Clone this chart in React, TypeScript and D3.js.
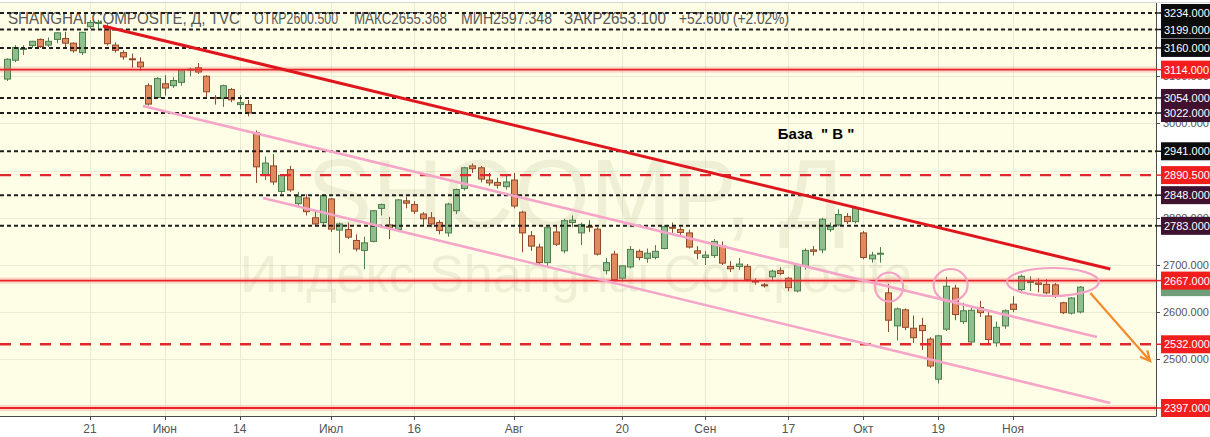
import React from 'react';
import * as d3 from 'd3';

// ---------- data ----------
const opens = [
  3094, 3134, 3158, 3165, 3178, 3166, 3178, 3180, 3170, 3150,
  3205, 3212, 3205, 3166, 3150, 3137, 3130, 3080, 3055, 3084,
  3080, 3087, 3113, 3118, 3100, 3055, 3053, 3072, 3040, 3040,
  2980, 2890, 2910, 2856, 2902, 2830, 2842, 2800, 2790, 2840,
  2774, 2775, 2752, 2731, 2750, 2820, 2785, 2775, 2836, 2828,
  2808, 2800, 2790, 2768, 2815, 2862, 2910, 2906, 2880, 2875,
  2866, 2880, 2812, 2762, 2738, 2705, 2770, 2730, 2790, 2768,
  2782, 2776, 2688, 2723, 2672, 2696, 2729, 2714, 2716, 2735,
  2780, 2775, 2768, 2730, 2716, 2720, 2740, 2697, 2697, 2697,
  2666, 2658, 2675, 2688, 2672, 2645, 2697, 2732, 2732, 2775,
  2785, 2803, 2792, 2768, 2713, 2723, 2641, 2571, 2605, 2566,
  2572, 2543, 2458, 2564, 2651, 2580, 2537, 2610, 2592, 2535,
  2571, 2617, 2648, 2665, 2662, 2659, 2658, 2620, 2598, 2600.5,
];
const highs = [
  3138, 3166, 3166, 3175, 3180, 3182, 3193, 3194, 3172, 3194,
  3219, 3220, 3210, 3172, 3155, 3148, 3140, 3085, 3098, 3102,
  3098, 3115, 3118, 3128, 3102, 3060, 3082, 3075, 3060, 3050,
  2985, 2930, 2935, 2892, 2910, 2855, 2850, 2815, 2850, 2842,
  2790, 2790, 2765, 2760, 2816, 2830, 2802, 2840, 2845, 2835,
  2812, 2812, 2795, 2832, 2862, 2908, 2915, 2910, 2895, 2885,
  2890, 2895, 2815, 2772, 2745, 2780, 2785, 2798, 2805, 2790,
  2795, 2780, 2715, 2730, 2700, 2740, 2733, 2735, 2742, 2785,
  2790, 2780, 2775, 2740, 2730, 2755, 2750, 2708, 2715, 2702,
  2672, 2662, 2690, 2695, 2675, 2702, 2735, 2740, 2800, 2790,
  2818, 2810, 2825, 2772, 2728, 2738, 2660, 2610, 2608, 2593,
  2588, 2547, 2552, 2675, 2658, 2620, 2610, 2624, 2600, 2580,
  2606, 2634, 2680, 2676, 2672, 2670, 2662, 2622, 2632, 2655.368,
];
const lows = [
  3090, 3130, 3145, 3160, 3160, 3162, 3170, 3160, 3150, 3145,
  3200, 3200, 3165, 3150, 3135, 3118, 3112, 3038, 3052, 3059,
  3075, 3080, 3100, 3105, 3055, 3040, 3035, 3045, 3030, 3015,
  2874, 2880, 2870, 2850, 2855, 2825, 2805, 2782, 2785, 2770,
  2725, 2755, 2729, 2691, 2748, 2805, 2755, 2770, 2820, 2808,
  2785, 2780, 2765, 2760, 2808, 2858, 2895, 2875, 2868, 2862,
  2860, 2820, 2727, 2730, 2700, 2695, 2740, 2725, 2780, 2742,
  2770, 2720, 2680, 2666, 2665, 2693, 2710, 2705, 2712, 2733,
  2768, 2760, 2735, 2712, 2700, 2715, 2700, 2685, 2690, 2665,
  2658, 2652, 2665, 2678, 2645, 2642, 2690, 2720, 2725, 2770,
  2782, 2787, 2788, 2712, 2705, 2705, 2558, 2540, 2562, 2535,
  2520, 2482, 2449, 2560, 2583, 2575, 2530, 2590, 2534, 2527,
  2565, 2600, 2640, 2645, 2642, 2638, 2630, 2596, 2595, 2597.348,
];
const closes = [
  3136, 3161, 3159, 3174, 3163, 3174, 3192, 3170, 3154, 3193,
  3214, 3214, 3169, 3155, 3141, 3135, 3120, 3041, 3095, 3075,
  3091, 3114, 3115, 3109, 3067, 3053, 3080, 3050, 3044, 3022,
  2908, 2916, 2876, 2890, 2859, 2845, 2813, 2787, 2847, 2776,
  2787, 2759, 2734, 2747, 2815, 2828, 2778, 2838, 2831, 2814,
  2798, 2787, 2773, 2829, 2860, 2906, 2904, 2882, 2874, 2869,
  2876, 2825, 2768, 2740, 2705, 2779, 2744, 2794, 2795, 2786,
  2781, 2723, 2705, 2669, 2698, 2733, 2716, 2725, 2729, 2781,
  2778, 2769, 2738, 2725, 2721, 2750, 2704, 2692, 2702, 2669,
  2665, 2656, 2687, 2682, 2652, 2700, 2731, 2729, 2797, 2781,
  2807, 2792, 2821, 2716, 2721, 2725, 2583, 2607, 2568, 2546,
  2561, 2486, 2550, 2655, 2595, 2603, 2604, 2599, 2542, 2568,
  2603, 2606, 2676, 2665, 2659, 2641, 2635, 2599, 2630, 2653.1,
];

const tickIdx = [10, 19, 28, 39, 49, 61, 74, 84, 94, 103, 112, 121];
const tickLabels = ['21', 'Июн', '14', 'Июл', '16', 'Авг', '20', 'Сен', '17', 'Окт', '19', 'Ноя'];

const gridValues = [2500, 2600, 2700, 2800, 2900, 3000, 3100, 3200];
const axisLabelValues = [2500, 2600, 2700, 2800, 3000, 3100];

const levelValues = [3234, 3199, 3160, 3114, 3054, 3022, 2941, 2890.5, 2848, 2783, 2667, 2532, 2397];
const levelKinds = ['dot', 'dot', 'dot', 'solid', 'dot', 'dot', 'dot', 'dash', 'dot', 'dot', 'solid', 'dash', 'solid'];
const levelTones = ['black', 'black', 'black', 'red', 'maroon', 'maroon', 'black', 'red', 'maroon', 'maroon', 'red', 'red', 'red'];

const lastClose = 2653.1;

const redTrendIdx = [11.56, 132.7];
const redTrendVal = [3206.5, 2691.5];
const pinkUpperIdx = [16.37, 131.1];
const pinkUpperVal = [3036.9, 2547.4];
const pinkLowerIdx = [30.8, 132.7];
const pinkLowerVal = [2842, 2407.6];
const arrowIdx = [130.3, 137.5];
const arrowVal = [2640.7, 2496.6];
const ellipseIdx = [106.1, 113.5, 125.8];
const ellipseVal = [2653.4, 2657.6, 2664];

const headerParts = ['SHANGHAI COMPOSITE, Д, TVC', 'ОТКР2600.500', 'МАКС2655.368', 'МИН2597.348', 'ЗАКР2653.100', '+52.600 (+2.02%)'];
const noteText = 'База  " В "';

// ---------- layout ----------
const W = 1210;
const H = 437;
const PR = 1156;
const PT = 3;
const PB = 416;

export default function App() {
  const x = d3.scaleLinear().domain([0, 129]).range([6.85, 1079.5]);
  const y = d3.scaleLinear().domain([2397, 3234]).range([408, 13]);

  const GF = '#8fbf8c';
  const GS = '#4d7f4c';
  const RF = '#e08a5e';
  const RS = '#8e4a2a';

  const toneFill: Record<string, string> = { black: '#0c0c0c', maroon: '#3f1230', red: '#f21d1d' };
  const line = d3.line<[number, number]>().x((d) => x(d[0])).y((d) => y(d[1]));

  const headerX = [8, 254, 354, 461, 564, 679];
  const headerW = [232, 84, 93, 91, 102, 110];
  const ellR = [[14, 14.5], [17, 16], [46, 14]];

  const ax0 = x(arrowIdx[0]), ay0 = y(arrowVal[0]), ax1 = x(arrowIdx[1]), ay1 = y(arrowVal[1]);
  const ang = Math.atan2(ay1 - ay0, ax1 - ax0);
  const hl = 11;
  const h1 = [ax1 - hl * Math.cos(ang - 0.45), ay1 - hl * Math.sin(ang - 0.45)];
  const h2 = [ax1 - hl * Math.cos(ang + 0.45), ay1 - hl * Math.sin(ang + 0.45)];

  return (
    <svg width={W} height={H} style={{ position: 'absolute', left: 0, top: 0, background: '#fff' }}
      fontFamily="'Liberation Sans', Arial, sans-serif">
      <defs>
        <clipPath id="plot"><rect x={0} y={PT} width={PR} height={PB - PT} /></clipPath>
      </defs>
      <rect x={0} y={0} width={W} height={H} fill="#fff" />
      <rect x={0} y={PT} width={PR} height={PB - PT} fill="#fefee6" />
      <line x1={0} x2={W} y1={PT - 0.5} y2={PT - 0.5} stroke="#d6d6d6" />

      <g clipPath="url(#plot)">
        {gridValues.map((v) => (
          <line key={'g' + v} x1={0} x2={PR} y1={Math.round(y(v)) + 0.5} y2={Math.round(y(v)) + 0.5} stroke="#ebebd3" />
        ))}
        {tickIdx.map((t) => (
          <line key={'gv' + t} x1={Math.round(x(t)) + 0.5} x2={Math.round(x(t)) + 0.5} y1={PT} y2={PB} stroke="#ebebd3" />
        ))}

        <text x={576} y={228} textAnchor="middle" fontSize={98} fill="#8c8c6e" fillOpacity={0.13}>SHCOMP, Д</text>
        <text x={576} y={292} textAnchor="middle" fontSize={52} fill="#8c8c6e" fillOpacity={0.13}>Индекс Shanghai Composite</text>

        {headerParts.map((p, k) => (
          <text key={'h' + k} x={headerX[k]} y={24} fontSize={17} fill="#585858"
            fontFamily="'Liberation Sans Narrow', 'Arial Narrow', 'Liberation Sans', sans-serif"
            textLength={headerW[k]} lengthAdjust="spacingAndGlyphs">{p}</text>
        ))}

        {closes.map((c, i) => {
          const o = opens[i];
          const up = c >= o;
          const cx = Math.round(x(i));
          const top = y(Math.max(o, c));
          const bot = y(Math.min(o, c));
          return (
            <g key={'c' + i}>
              <line x1={cx + 0.5} x2={cx + 0.5} y1={y(highs[i])} y2={y(lows[i])} stroke={up ? GS : RS} />
              <rect x={cx - 2.5} y={top} width={6} height={Math.max(1, bot - top)}
                fill={up ? GF : RF} stroke={up ? GS : RS} strokeWidth={1} />
            </g>
          );
        })}

        {levelValues.map((v, k) => {
          const yy = y(v);
          const kind = levelKinds[k];
          if (kind === 'solid') {
            return (
              <g key={'l' + k}>
                <rect x={0} y={yy - 3} width={PR} height={6} fill="#f06060" fillOpacity={0.25} />
                <line x1={0} x2={PR} y1={yy} y2={yy} stroke="#e8242a" strokeWidth={1.8} />
              </g>
            );
          }
          if (kind === 'dash') {
            return <line key={'l' + k} x1={0} x2={PR} y1={yy} y2={yy} stroke="#e3262b" strokeWidth={2.4} strokeDasharray="11,9" />;
          }
          return <line key={'l' + k} x1={0} x2={PR} y1={yy} y2={yy} stroke="#1e1e1e" strokeWidth={2} strokeDasharray="4,3" />;
        })}

        <path d={line([[redTrendIdx[0], redTrendVal[0]], [redTrendIdx[1], redTrendVal[1]]])!} stroke="#e0161f" strokeWidth={3} fill="none" />
        <path d={line([[pinkUpperIdx[0], pinkUpperVal[0]], [pinkUpperIdx[1], pinkUpperVal[1]]])!} stroke="#f5a5c8" strokeWidth={2.6} fill="none" />
        <path d={line([[pinkLowerIdx[0], pinkLowerVal[0]], [pinkLowerIdx[1], pinkLowerVal[1]]])!} stroke="#f5a5c8" strokeWidth={2.6} fill="none" />

        {ellipseIdx.map((e, k) => (
          <ellipse key={'e' + k} cx={x(e)} cy={y(ellipseVal[k])} rx={ellR[k][0]} ry={ellR[k][1]}
            fill="none" stroke="#f3a2c6" strokeWidth={2.2} />
        ))}

        <line x1={ax0} y1={ay0} x2={ax1} y2={ay1} stroke="#f58a2a" strokeWidth={2.2} />
        <path d={`M${h1[0]},${h1[1]} L${ax1},${ay1} L${h2[0]},${h2[1]}`} stroke="#f58a2a" strokeWidth={2.2} fill="none" />

        <text x={x(92.7)} y={y(2967)} fontSize={15} fontWeight="bold" fill="#000"
          style={{ whiteSpace: 'pre' }}>{noteText}</text>
      </g>

      <line x1={PR + 0.5} x2={PR + 0.5} y1={PT} y2={PB} stroke="#4a4a4a" />
      <line x1={0} x2={PR + 0.5} y1={PB + 0.5} y2={PB + 0.5} stroke="#4a4a4a" />

      {tickIdx.map((t, k) => (
        <g key={'xt' + t}>
          <line x1={Math.round(x(t)) + 0.5} x2={Math.round(x(t)) + 0.5} y1={PB} y2={PB + 4} stroke="#4a4a4a" />
          <text x={x(t)} y={433} textAnchor="middle" fontSize={12} fill="#555"
            fontFamily="'Liberation Sans Narrow', 'Arial Narrow', 'Liberation Sans', sans-serif">{tickLabels[k]}</text>
        </g>
      ))}

      {axisLabelValues.map((v) => (
        <g key={'yl' + v}>
          <line x1={PR} x2={PR + 4} y1={Math.round(y(v)) + 0.5} y2={Math.round(y(v)) + 0.5} stroke="#4a4a4a" />
          <text x={1163} y={y(v) + 4} fontSize={11} fill="#555">{d3.format('.3f')(v)}</text>
        </g>
      ))}

      <rect x={1161} y={y(lastClose) - 9} width={49} height={18} fill="#6e9f78" />

      {levelValues.map((v, k) => {
        const yy = y(v);
        const c = toneFill[levelTones[k]];
        return (
          <g key={'ll' + k}>
            <line x1={PR} x2={1161} y1={yy} y2={yy} stroke={levelKinds[k] === 'dot' ? '#1e1e1e' : '#e8242a'} strokeWidth={1.5} />
            <rect x={1161} y={yy - 9} width={49} height={18} fill={c} />
            <text x={1164} y={yy + 4} fontSize={11} fill="#fff">{d3.format('.3f')(v)}</text>
          </g>
        );
      })}
    </svg>
  );
}
